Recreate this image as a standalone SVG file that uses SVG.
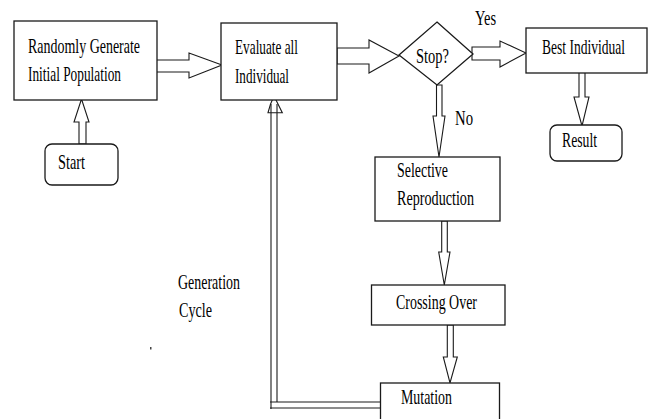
<svg xmlns="http://www.w3.org/2000/svg" width="648" height="419" viewBox="0 0 648 419">
<style>
.box{fill:#fff;stroke:#1a1a1a;stroke-width:1.3}
.arr{fill:#fff;stroke:#1a1a1a;stroke-width:1.1;stroke-linejoin:miter}
.ln{fill:none;stroke:#1a1a1a;stroke-width:1.1}
text{font-family:"Liberation Serif","Times New Roman",serif;font-size:21px;fill:#000}
</style>
<rect width="648" height="419" fill="#fff"/>
<g id="connectors">
<polygon class="arr" points="79,144 79,122 74,122 81.5,99 89,122 86,122 86,144"/>
<polygon class="arr" points="155,60 189,60 189,53 222,65 189,78 189,72 155,72"/>
<polygon class="arr" points="337,48 369,48 369,40 399,56 369,73 369,64 337,64"/>
<polygon class="arr" points="472,47 500,47 500,41 526,53 500,67 500,60 472,60"/>
<polygon class="arr" points="579,69 585,69 585,97 589,97 582,126 574,97 579,97"/>
<polygon class="arr" points="436.5,85 442,85 442,116 445,116 439,157 433,116 436.5,116"/>
<polygon class="arr" points="441.7,221 447.3,221 447.3,252 450,252 444.3,285 438.7,252 441.7,252"/>
<polygon class="arr" points="447.3,325 453.3,325 453.3,357 457.3,357 450,383 443.3,357 447.3,357"/>
<g id="loop">
<line class="ln" x1="271" y1="104" x2="271" y2="409"/>
<line class="ln" x1="277" y1="104" x2="277" y2="402"/>
<line class="ln" x1="270" y1="402" x2="380.5" y2="402"/>
<line class="ln" x1="270" y1="408" x2="380.5" y2="408"/>
<path class="ln" d="M268,112.7 Q270,104 274,96 Q278,104 282.3,112.7 Z"/>
</g>
</g>
<g id="n-init"><rect class="box" x="14" y="21" width="143" height="79"/>
<text x="28" y="53" textLength="112" lengthAdjust="spacingAndGlyphs">Randomly Generate</text>
<text x="28" y="81" textLength="93" lengthAdjust="spacingAndGlyphs">Initial Population</text></g>
<g id="n-start"><rect class="box" x="45" y="144" width="73" height="41" rx="7"/>
<text x="58" y="169" textLength="27" lengthAdjust="spacingAndGlyphs">Start</text></g>
<g id="n-eval"><rect class="box" x="221" y="23" width="116" height="77"/>
<text x="235" y="54" textLength="63" lengthAdjust="spacingAndGlyphs">Evaluate all</text>
<text x="235" y="83" textLength="54" lengthAdjust="spacingAndGlyphs">Individual</text></g>
<g id="n-stop"><polygon class="box" points="437,22 473,54 437,85 399,55"/>
<text x="416" y="63" textLength="33" lengthAdjust="spacingAndGlyphs">Stop?</text></g>
<g id="n-best"><rect class="box" x="526" y="28" width="121" height="45"/>
<text x="542" y="54" textLength="83" lengthAdjust="spacingAndGlyphs">Best Individual</text></g>
<g id="n-result"><rect class="box" x="550" y="125" width="72" height="36" rx="7"/>
<text x="562" y="147" textLength="35" lengthAdjust="spacingAndGlyphs">Result</text></g>
<g id="n-sel"><rect class="box" x="375" y="157" width="125" height="64"/>
<text x="397" y="177" textLength="51" lengthAdjust="spacingAndGlyphs">Selective</text>
<text x="397" y="205" textLength="77" lengthAdjust="spacingAndGlyphs">Reproduction</text></g>
<g id="n-cross"><rect class="box" x="371.5" y="285" width="133.5" height="40"/>
<text x="396" y="309" textLength="81" lengthAdjust="spacingAndGlyphs">Crossing Over</text></g>
<g id="n-mut"><rect class="box" x="380.5" y="383" width="119" height="50"/>
<text x="401" y="404" textLength="51" lengthAdjust="spacingAndGlyphs">Mutation</text></g>
<g id="labels">
<text x="475" y="25" textLength="21" lengthAdjust="spacingAndGlyphs">Yes</text>
<text x="455" y="125" textLength="18" lengthAdjust="spacingAndGlyphs">No</text>
<text x="178" y="289" textLength="62" lengthAdjust="spacingAndGlyphs">Generation</text>
<text x="179" y="317" textLength="33" lengthAdjust="spacingAndGlyphs">Cycle</text>
</g>
<rect x="150" y="347" width="1.5" height="2.5" fill="#444"/>
</svg>
